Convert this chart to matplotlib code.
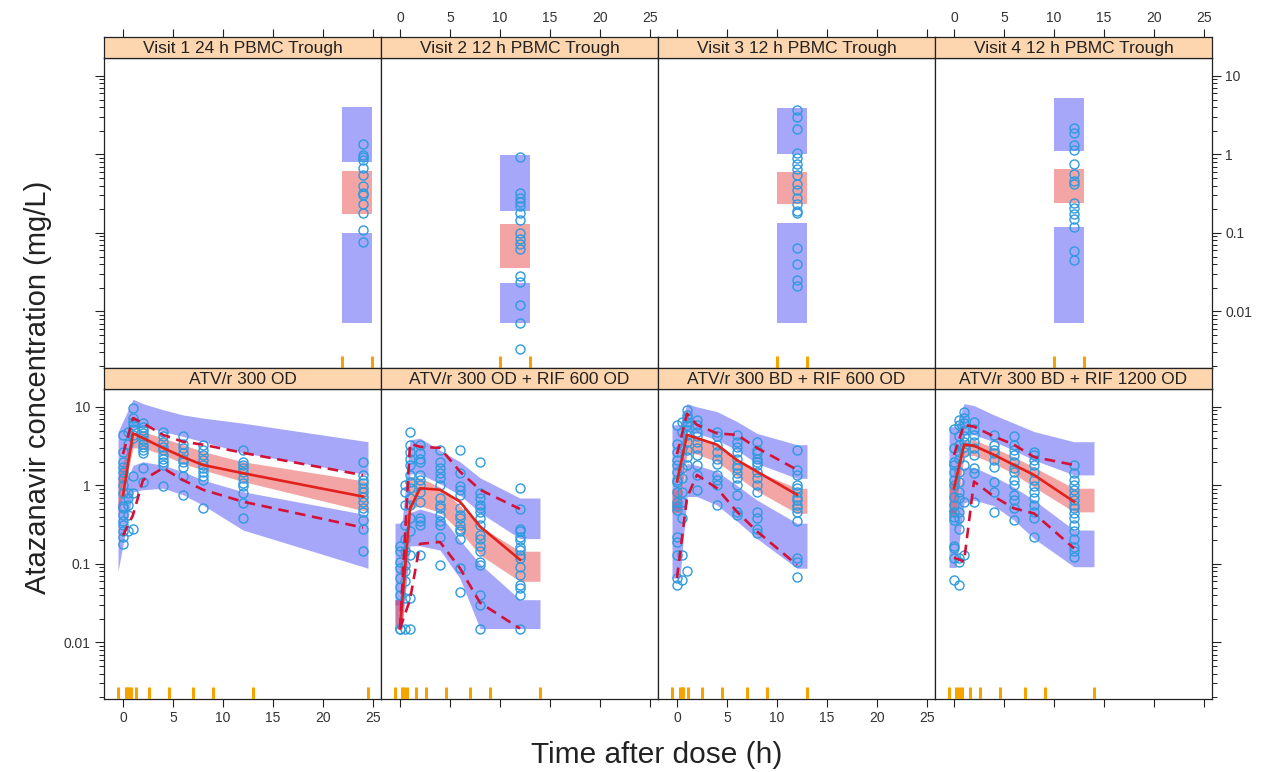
import numpy as np
import matplotlib.pyplot as plt
from matplotlib.ticker import LogLocator, NullFormatter

plt.rcParams['font.family'] = ['Liberation Sans', 'DejaVu Sans']

BLUE = '#5050F5'
PINK = '#E84C4C'
CIRC = '#2E9BE0'
RED = '#E3211C'
DASH = '#D41238'
ORANGE = '#F4A300'
STRIP = '#FDD5AE'
FRAME = '#222222'
TXT = '#333333'

# ---------------- panel titles
top_titles = ['Visit 1 24 h PBMC Trough', 'Visit 2 12 h PBMC Trough',
              'Visit 3 12 h PBMC Trough', 'Visit 4 12 h PBMC Trough']
bottom_titles = ['ATV/r 300 OD', 'ATV/r 300 OD + RIF 600 OD',
                 'ATV/r 300 BD + RIF 600 OD', 'ATV/r 300 BD + RIF 1200 OD']

# ---------------- top row: PBMC troughs
pbmc_time = [24, 12, 12, 12]
pbmc_bins = [[21.9, 24.9], [10, 13], [10, 13], [10, 13]]
pbmc_obs = [
    [1.34, 0.97, 0.92, 0.84, 0.68, 0.54, 0.40, 0.32, 0.30, 0.235, 0.18, 0.11, 0.077],
    [0.92, 0.32, 0.275, 0.245, 0.22, 0.18, 0.145, 0.10, 0.084, 0.072, 0.062,
     0.028, 0.024, 0.012, 0.0072, 0.0033],
    [3.7, 3.0, 2.1, 1.03, 0.90, 0.76, 0.66, 0.54, 0.42, 0.35, 0.28, 0.235, 0.19,
     0.18, 0.064, 0.040, 0.025, 0.021],
    [2.15, 1.86, 1.3, 1.13, 0.76, 0.57, 0.46, 0.42, 0.24, 0.21, 0.175, 0.15, 0.12,
     0.059, 0.045],
]
pbmc_p95_ci = [[0.81, 4.0], [0.19, 0.97], [1.0, 3.9], [1.1, 5.2]]
pbmc_p50_ci = [[0.175, 0.62], [0.036, 0.13], [0.235, 0.59], [0.24, 0.66]]
pbmc_p05_ci = [[0.0072, 0.10], [0.0072, 0.023], [0.0072, 0.135], [0.0072, 0.12]]

# ---------------- bottom row: plasma PK
pk_times = [
    [0, 0.5, 1, 2, 4, 6, 8, 12, 24],
    [0, 0.5, 1, 2, 4, 6, 8, 12],
    [0, 0.5, 1, 2, 4, 6, 8, 12],
    [0, 0.5, 1, 2, 4, 6, 8, 12],
]
pk_conc = [
    [[4.4, 2.7, 2.0, 1.74, 1.5, 1.23, 1.01, 0.8, 0.54, 0.51, 0.42, 0.35, 0.31, 0.26, 0.22, 0.18],
     [4.85, 3.4, 0.79, 0.69, 0.56, 0.42, 0.26],
     [9.6, 7.2, 6.5, 5.9, 5.3, 4.4, 4.0, 1.3, 0.79, 0.28],
     [6.2, 5.6, 5.1, 4.6, 4.2, 3.8, 3.4, 3.1, 2.8, 2.6, 1.66, 1.12],
     [4.85, 4.2, 3.6, 3.1, 2.8, 2.45, 2.2, 2.0, 1.8, 0.97],
     [4.2, 3.4, 3.0, 2.6, 2.2, 2.0, 1.74, 1.3, 0.76],
     [3.3, 2.8, 2.45, 2.1, 1.8, 1.66, 1.5, 1.3, 1.17, 0.51],
     [2.8, 2.0, 1.8, 1.66, 1.5, 1.23, 1.07, 0.97, 0.79, 0.59, 0.38],
     [2.0, 1.36, 1.17, 1.07, 0.92, 0.83, 0.72, 0.62, 0.51, 0.46, 0.36, 0.28, 0.144]],
    [[0.015, 0.015, 0.040, 0.051, 0.066, 0.088, 0.107, 0.144, 0.17],
     [0.015, 0.037, 0.06, 0.08, 0.097, 0.144, 0.21, 0.31, 0.56, 0.83, 1.01],
     [4.85, 3.3, 2.7, 2.2, 1.8, 1.36, 1.12, 0.92, 0.69, 0.56, 0.38, 0.26, 0.13, 0.037, 0.015],
     [3.3, 2.6, 2.2, 2.0, 1.36, 1.17, 1.01, 0.83, 0.62, 0.38, 0.35, 0.31, 0.13],
     [2.8, 2.0, 1.66, 1.43, 1.23, 1.01, 0.69, 0.56, 0.51, 0.42, 0.35, 0.31, 0.22, 0.097],
     [2.8, 1.43, 0.97, 0.88, 0.76, 0.51, 0.42, 0.38, 0.31, 0.28, 0.26, 0.21, 0.088, 0.044],
     [2.0, 0.79, 0.69, 0.56, 0.51, 0.46, 0.38, 0.31, 0.23, 0.21, 0.17, 0.144, 0.107, 0.097,
      0.040, 0.030, 0.015],
     [0.92, 0.50, 0.28, 0.26, 0.22, 0.20, 0.166, 0.151, 0.13, 0.118, 0.092, 0.072, 0.054,
      0.049, 0.040, 0.015]],
    [[5.9, 3.4, 2.7, 2.1, 1.8, 1.5, 1.17, 1.12, 0.83, 0.62, 0.54, 0.49, 0.22, 0.19, 0.13,
      0.066, 0.054],
     [6.5, 4.85, 3.0, 1.66, 1.23, 0.83, 0.62, 0.38, 0.13, 0.063],
     [9.2, 7.9, 7.2, 6.5, 5.9, 5.1, 4.4, 3.6, 2.8, 2.3, 1.8, 0.080],
     [6.8, 5.9, 4.85, 4.2, 3.6, 3.0, 2.45, 1.8, 1.36, 0.88],
     [4.85, 4.2, 3.3, 2.7, 2.2, 1.9, 1.36, 1.17, 1.01, 0.56],
     [4.4, 3.6, 3.1, 2.7, 2.2, 1.8, 1.66, 1.43, 1.23, 1.01, 0.76, 0.46, 0.42],
     [3.6, 2.8, 2.6, 2.2, 2.0, 1.8, 1.5, 1.23, 1.01, 0.83, 0.46, 0.38, 0.28, 0.25],
     [2.8, 1.57, 1.36, 1.01, 0.92, 0.83, 0.72, 0.65, 0.56, 0.51, 0.46, 0.35, 0.118, 0.107,
      0.069]],
    [[5.3, 3.0, 2.0, 1.8, 1.5, 1.17, 1.01, 0.72, 0.56, 0.46, 0.40, 0.36, 0.17, 0.158, 0.118,
      0.063],
     [6.8, 5.9, 4.2, 3.3, 2.7, 2.2, 1.5, 1.12, 0.83, 0.69, 0.46, 0.38, 0.28, 0.118, 0.107,
      0.054],
     [8.7, 7.2, 6.2, 5.1, 4.2, 3.6, 3.1, 2.7, 1.8, 0.62, 0.13],
     [6.5, 5.3, 4.4, 3.6, 3.0, 2.45, 1.66, 1.43, 0.62],
     [4.4, 3.3, 2.8, 2.6, 2.1, 1.74, 1.12, 0.83, 0.46],
     [4.2, 3.3, 2.8, 2.45, 2.0, 1.66, 1.5, 1.17, 1.01, 0.76, 0.65, 0.51, 0.36],
     [2.7, 2.45, 2.1, 1.8, 1.5, 1.17, 0.97, 0.83, 0.69, 0.56, 0.46, 0.38, 0.22],
     [1.8, 1.43, 1.17, 1.01, 0.88, 0.76, 0.65, 0.56, 0.51, 0.44, 0.38, 0.31, 0.26, 0.21,
      0.166, 0.144, 0.124]],
]

# observed percentiles
obs_t = [[0, 1, 2, 4, 6, 8, 12, 24], [0, 1, 2, 4, 6, 8, 12],
         [0, 1, 2, 4, 6, 8, 12], [0, 1, 2, 4, 6, 8, 12]]
obs_p50 = [[0.75, 4.6, 4.0, 3.0, 2.3, 1.82, 1.43, 0.72],
           [0.015, 0.5, 0.92, 0.88, 0.62, 0.3, 0.113],
           [1.12, 4.4, 4.0, 3.3, 2.1, 1.5, 0.76],
           [0.92, 3.3, 3.2, 2.45, 1.82, 1.36, 0.62]]
obs_p95 = [[2.5, 7.2, 6.2, 4.4, 3.6, 3.3, 2.6, 1.35],
           [0.015, 3.4, 3.1, 3.0, 1.5, 0.88, 0.5],
           [2.5, 8.2, 5.9, 4.6, 4.4, 3.0, 1.58],
           [2.45, 5.9, 5.6, 4.2, 3.3, 2.3, 1.82]]
obs_p05 = [[0.23, 0.42, 1.17, 1.66, 1.17, 0.88, 0.62, 0.29],
           [0.015, 0.035, 0.18, 0.19, 0.088, 0.032, 0.015],
           [0.066, 0.7, 1.36, 0.92, 0.46, 0.26, 0.097],
           [0.12, 0.107, 1.12, 0.72, 0.51, 0.44, 0.158]]

# simulated confidence bands
band_t = [[-0.5, 1, 2, 4, 6, 8, 12, 24.5],
          [-0.5, 0.2, 1, 2, 4, 6, 8, 12, 14],
          [-0.5, 0.3, 1, 2, 4, 6, 8, 12, 13],
          [-0.5, 0.2, 1, 2, 4, 6, 8, 12, 14]]
p95_hi = [[4.8, 12.5, 11, 9.2, 7.9, 7.2, 6.2, 3.6],
          [0.33, 0.33, 3.8, 4.0, 2.8, 2.0, 1.25, 0.69, 0.69],
          [5.9, 5.9, 11, 10, 8.7, 6.5, 4.6, 3.3, 3.3],
          [5.6, 5.6, 11, 10.4, 7.9, 6.2, 4.85, 3.6, 3.6]]
p95_lo = [[0.5, 5.3, 5.6, 4.85, 4.2, 3.6, 2.6, 1.36],
          [0.03, 0.03, 1.4, 1.4, 1.05, 0.75, 0.45, 0.21, 0.21],
          [0.5, 0.5, 4.8, 4.6, 3.8, 2.8, 1.9, 1.23, 1.23],
          [0.45, 0.45, 4.4, 4.4, 3.6, 2.8, 2.1, 1.36, 1.36]]
p50_hi = [[1.3, 4.6, 4.85, 4.0, 3.3, 2.7, 2.0, 1.12],
          [0.035, 0.035, 1.3, 1.25, 0.95, 0.55, 0.3, 0.145, 0.145],
          [0.9, 0.9, 4.2, 4.0, 3.2, 2.2, 1.5, 0.92, 0.92],
          [1.1, 1.1, 3.8, 3.8, 3.0, 2.3, 1.7, 0.92, 0.92]]
p50_lo = [[0.4, 3.0, 3.0, 2.45, 1.9, 1.57, 1.12, 0.46],
          [0.015, 0.015, 0.5, 0.55, 0.45, 0.26, 0.13, 0.06, 0.06],
          [0.45, 0.45, 2.6, 2.5, 2.0, 1.3, 0.85, 0.44, 0.44],
          [0.4, 0.4, 2.4, 2.4, 1.9, 1.4, 0.95, 0.46, 0.46]]
p05_hi = [[0.6, 1.8, 2.0, 1.8, 1.5, 1.17, 0.83, 0.42],
          [0.035, 0.035, 0.45, 0.5, 0.42, 0.2, 0.1, 0.035, 0.035],
          [0.6, 0.6, 1.9, 1.8, 1.5, 1.0, 0.65, 0.33, 0.33],
          [0.5, 0.5, 1.7, 1.7, 1.3, 0.95, 0.65, 0.27, 0.27]]
p05_lo = [[0.08, 0.83, 0.88, 0.92, 0.76, 0.56, 0.27, 0.088],
          [0.015, 0.015, 0.17, 0.17, 0.15, 0.065, 0.015, 0.015, 0.015],
          [0.066, 0.066, 0.72, 0.72, 0.56, 0.35, 0.21, 0.088, 0.088],
          [0.09, 0.09, 0.6, 0.65, 0.55, 0.36, 0.21, 0.092, 0.092]]

# bin boundaries (rug)
rug_x = [[-0.5, 0.25, 0.4, 0.6, 0.75, 1.25, 2.6, 4.6, 7.0, 9.0, 13.0, 24.5],
         [-0.5, 0.17, 0.4, 0.67, 1.57, 2.57, 4.57, 7.0, 9.0, 14.0],
         [-0.53, 0.3, 0.47, 0.63, 1.13, 2.47, 4.47, 6.97, 8.97, 12.97],
         [-0.5, 0.2, 0.5, 0.77, 1.6, 2.6, 4.6, 7.1, 9.1, 14.0]]

# ---------------- layout
W, H = 1270, 772
fig = plt.figure(figsize=(W / 100, H / 100), dpi=100)


def box(x0, y0, x1, y1):
    return [x0 / W, 1 - y1 / H, (x1 - x0) / W, (y1 - y0) / H]


col_x = [104, 381, 658, 935]
PW = 277
XLIM = (-1.9, 25.8)
YLIM = (0.0019, 16.9)
rows = {0: (37, 58, 368), 1: (368, 389, 699)}


def frame(ax):
    for s in ax.spines.values():
        s.set_color(FRAME)
        s.set_linewidth(0.9)


def make_panel(row, col, title):
    s0, p0, p1 = rows[row]
    x0 = col_x[col]
    ax = fig.add_axes(box(x0, p0, x0 + PW, p1))
    st = fig.add_axes(box(x0, s0, x0 + PW, p0), sharex=ax)
    ax.set_xlim(*XLIM)
    ax.set_yscale('log')
    ax.set_ylim(*YLIM)
    ax.set_yticks([0.01, 0.1, 1, 10])
    ax.set_yticklabels(['0.01', '0.1', '1', '10'])
    ax.yaxis.set_minor_locator(LogLocator(base=10, subs=np.arange(2, 10)))
    ax.yaxis.set_minor_formatter(NullFormatter())
    ax.set_xticks([0, 5, 10, 15, 20, 25])
    frame(ax)
    ax.tick_params(axis='y', which='major', length=6.5, width=0.8, color=FRAME,
                   left=(col == 0), right=(col == 3),
                   labelleft=(col == 0 and row == 1),
                   labelright=(col == 3 and row == 0),
                   labelsize=10, labelcolor=TXT, pad=3)
    ax.tick_params(axis='y', which='minor', length=3.5, width=0.7, color=FRAME,
                   left=(col == 0), right=(col == 3))
    ax.tick_params(axis='x', which='both', length=5.5, width=0.8, color=FRAME,
                   bottom=(row == 1), top=False,
                   labelbottom=(row == 1 and col in (0, 2)), labeltop=False,
                   labelsize=10, labelcolor=TXT, pad=3)

    st.set_facecolor(STRIP)
    frame(st)
    st.set_yticks([])
    st.tick_params(axis='x', which='both', length=5.5, width=0.8, color=FRAME,
                   bottom=False, labelbottom=False,
                   top=(row == 0), labeltop=(row == 0 and col in (1, 3)),
                   labelsize=10, labelcolor=TXT, pad=3)
    st.text(0.5, 0.45, title, transform=st.transAxes, ha='center', va='center',
            fontsize=12.5, color='#222222')
    return ax


def rug(ax, xs):
    ax.vlines(xs, 0, 0.04, transform=ax.get_xaxis_transform(),
              color=ORANGE, lw=2.2, zorder=5)


# top row
for c in range(4):
    ax = make_panel(0, c, top_titles[c])
    b = pbmc_bins[c]
    for ci, col in ((pbmc_p95_ci[c], BLUE), (pbmc_p05_ci[c], BLUE), (pbmc_p50_ci[c], PINK)):
        ax.fill_between(b, [ci[0]] * 2, [ci[1]] * 2, color=col, alpha=0.5, lw=0)
    ax.plot([pbmc_time[c]] * len(pbmc_obs[c]), pbmc_obs[c], 'o', mfc='none',
            mec=CIRC, ms=6.5, mew=1.0, zorder=4)
    rug(ax, b)

# bottom row
for c in range(4):
    ax = make_panel(1, c, bottom_titles[c])
    bt = band_t[c]
    ax.fill_between(bt, p95_lo[c], p95_hi[c], color=BLUE, alpha=0.5, lw=0)
    ax.fill_between(bt, p05_lo[c], p05_hi[c], color=BLUE, alpha=0.5, lw=0)
    ax.fill_between(bt, p50_lo[c], p50_hi[c], color=PINK, alpha=0.5, lw=0)
    for t, vals in zip(pk_times[c], pk_conc[c]):
        ax.plot([t] * len(vals), vals, 'o', mfc='none', mec=CIRC, ms=6.5,
                mew=1.0, zorder=3)
    ax.plot(obs_t[c], obs_p50[c], color=RED, lw=1.9, zorder=4)
    ax.plot(obs_t[c], obs_p95[c], color=DASH, lw=1.9, ls=(0, (4, 2.5)), zorder=4)
    ax.plot(obs_t[c], obs_p05[c], color=DASH, lw=1.9, ls=(0, (4, 2.5)), zorder=4)
    rug(ax, rug_x[c])

fig.text(657 / W, 1 - 755 / H, 'Time after dose (h)', ha='center', va='center',
         fontsize=21.5, color='#222222')
fig.text(38 / W, 1 - 387 / H, 'Atazanavir concentration (mg/L)', ha='center',
         va='center', rotation=90, fontsize=21, color='#222222')

fig.savefig('out.png', dpi=100)
